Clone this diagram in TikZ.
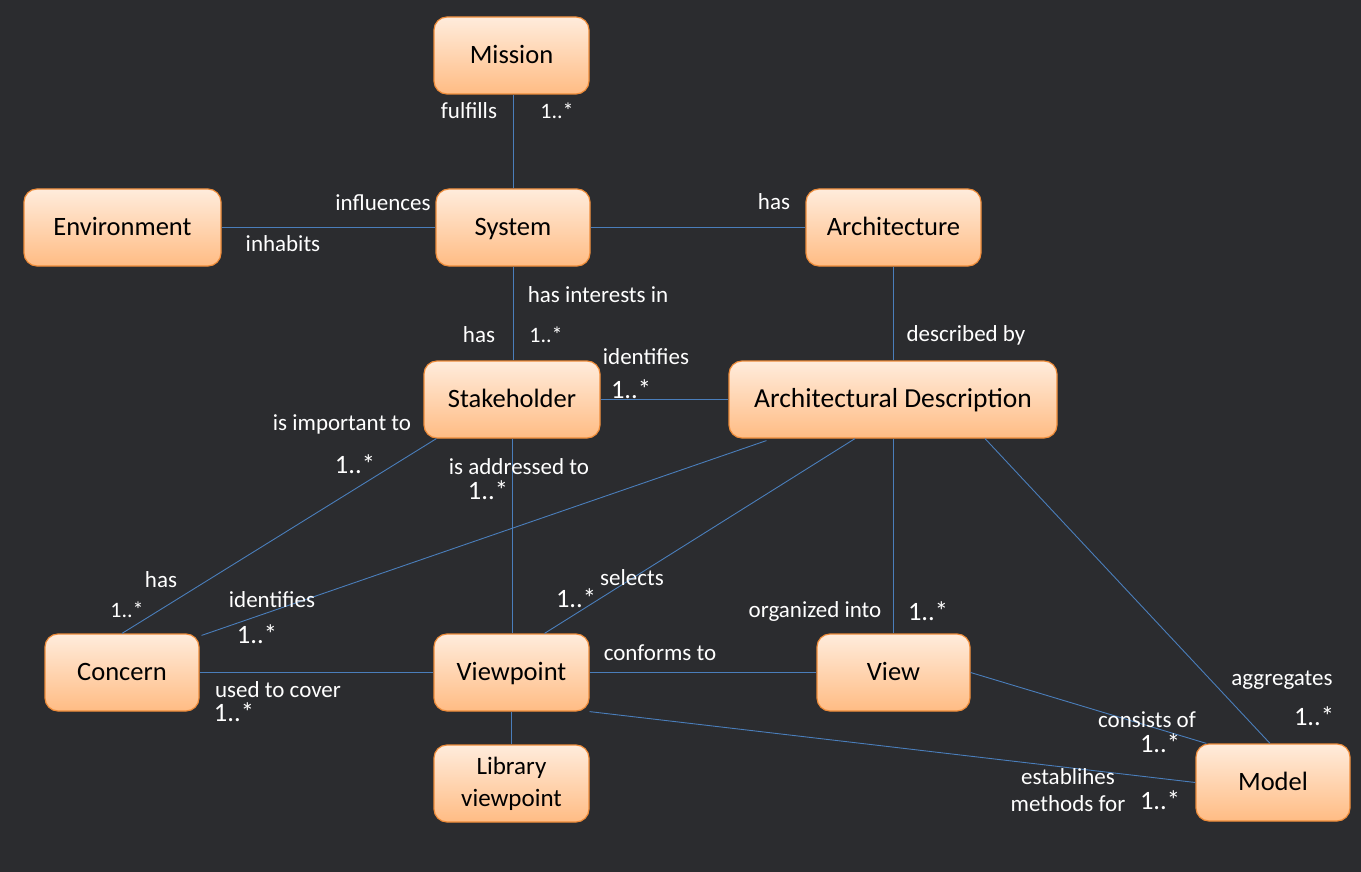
\documentclass[tikz,border=0pt]{standalone}
\usepackage{fontspec}
\setmainfont{Carlito}
\definecolor{bgc}{RGB}{43,44,47}
\definecolor{topc}{RGB}{255,236,220}
\definecolor{botc}{RGB}{255,188,132}
\definecolor{edgec}{RGB}{238,140,58}
\definecolor{linec}{RGB}{74,126,187}
\tikzset{
  boxbase/.style={draw=edgec, line width=1.2pt, rounded corners=13pt, top color=topc, bottom color=botc,
    minimum height=77pt, inner sep=2pt, align=center, text=black,
    font=\fontsize{26.5}{30}\selectfont},
  box/.style={boxbase, text height=21pt, text depth=5pt},
  conn/.style={draw=linec, line width=0.9pt},
  lbl/.style={text=white, inner sep=0pt, font=\fontsize{23}{27}\selectfont, align=center},
  mult/.style={text=white, inner sep=0pt, font=\fontsize{22}{26}\selectfont},
  bigmult/.style={text=white, inner sep=0pt, font=\fontsize{26.5}{30}\selectfont},
}
\begin{document}
\begin{tikzpicture}[x=1pt,y=-1pt]
\fill[bgc] (0,0) rectangle (1361,872);
\useasboundingbox (0,0) rectangle (1361,872);

% nodes
\node[box, minimum width=155pt] (mission) at (511.5,55.5) {Mission};
\node[box, minimum width=197pt] (env) at (122.5,227.5) {Environment};
\node[box, minimum width=154pt] (system) at (513,227.5) {System};
\node[box, minimum width=175pt] (arch) at (893.5,227.5) {Architecture};
\node[box, minimum width=176pt] (stake) at (512,399.5) {Stakeholder};
\node[box, minimum width=328pt, font=\fontsize{27.5}{30}\selectfont] (ad) at (893,399.5) {Architectural Description};
\node[box, minimum width=154pt] (concern) at (122,672.5) {Concern};
\node[box, minimum width=155pt] (viewpoint) at (511.5,672.5) {Viewpoint};
\node[box, minimum width=153pt] (view) at (893.5,672.5) {View};
\node[boxbase, minimum width=155pt, font=\fontsize{25}{32}\selectfont] (lib) at (511.5,783.5) {Library\\viewpoint};
\node[box, minimum width=154pt] (model) at (1273,782.5) {Model};

% connectors
\draw[conn] (system.north) -- (system.north |- mission.south);
\draw[conn] (env.east) -- (system.west);
\draw[conn] (system.east) -- (arch.west);
\draw[conn] (system.south) -- (system.south |- stake.north);
\draw[conn] (arch.south) -- (arch.south |- ad.north);
\draw[conn] (stake.east) -- (ad.west);
\draw[conn] ([xshift=13pt]stake.south west) -- (concern.north);
\draw[conn] (stake.south) -- (stake.south |- viewpoint.north);
\draw[conn] ([xshift=38pt,yshift=-2pt]ad.south west) -- ([xshift=2pt,yshift=-2pt]concern.north east);
\draw[conn] ([xshift=-38pt]ad.south) -- ([xshift=33pt]viewpoint.north);
\draw[conn] (ad.south) -- (ad.south |- view.north);
\draw[conn] ([xshift=92pt]ad.south) -- ([xshift=-3pt]model.north);
\draw[conn] (concern.east) -- (viewpoint.west);
\draw[conn] (viewpoint.east) -- (view.west);
\draw[conn] (viewpoint.south) -- (viewpoint.south |- lib.north);
\draw[conn] (view.east) -- ([xshift=11pt]model.north west);
\draw[conn] (viewpoint.south east) -- (model.west);

% labels
\node[lbl] (l1) at (469,111) {fulfills};
\node[mult] (m1) at (557,111) {1..*};
\node[lbl] (l2) at (383,203) {influences};
\node[lbl] (l3) at (283,244) {inhabits};
\node[lbl] (l4) at (774,202) {has};
\node[lbl] (l5) at (598,295) {has interests in};
\node[lbl] (l6) at (479,335) {has};
\node[mult] (m6) at (546,335) {1..*};
\node[lbl] (l7) at (646,357) {identifies};
\node[bigmult] (m7) at (631,389) {1..*};
\node[lbl] (l8) at (966,335) {described by};
\node[lbl] (l9) at (342,424) {is important to};
\node[bigmult] (m9) at (355,464) {1..*};
\node[lbl] (l10) at (519,467) {is addressed to};
\node[bigmult] (m10) at (488,490) {1..*};
\node[lbl] (l11) at (161,580) {has};
\node[mult] (m11) at (127,610) {1..*};
\node[lbl] (l12) at (272,600) {identifies};
\node[bigmult] (m12) at (257,634) {1..*};
\node[lbl] (l13) at (632,578) {selects};
\node[bigmult] (m13) at (576,598) {1..*};
\node[lbl] (l14) at (815,611) {organized into};
\node[bigmult] (m14) at (928,611) {1..*};
\node[lbl] (l15) at (660,653) {conforms to};
\node[lbl] (l16) at (278,690) {used to cover};
\node[bigmult] (m16) at (234,712) {1..*};
\node[lbl] (l17) at (1282,680) {aggregates};
\node[bigmult] (m17) at (1314,716) {1..*};
\node[lbl] (l18) at (1147,720) {consists of};
\node[bigmult] (m18) at (1160,743) {1..*};
\node[lbl] (l19) at (1068,790) {establihes\\methods for};
\node[bigmult] (m19) at (1160,800) {1..*};
\end{tikzpicture}
\end{document}
